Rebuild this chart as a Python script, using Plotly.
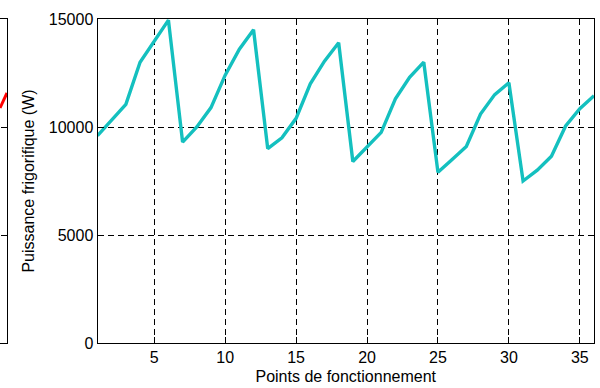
import plotly.graph_objects as go

# Main chart data
points = list(range(1, 37))
puissance = [9600, 10320, 11050, 13000, 14000, 14950,
             9300, 10000, 10900, 12400, 13600, 14500,
             9000, 9500, 10400, 12000, 13050, 13900,
             8400, 9050, 9750, 11300, 12300, 13000,
             7900, 8500, 9100, 10600, 11500, 12050,
             7500, 8000, 8650, 10050, 10850, 11450]
x_ticks = [5, 10, 15, 20, 25, 30, 35]
y_ticks = [0, 5000, 10000, 15000]
y_tick_labels = ["0", "5000", "10000", "15000"]

# Edge of the neighbouring (cropped) chart on the left
left_x = [0, 1]
left_values = [10880, 11575]

W, H = 600, 388
ML, MR, MT, MB = 0, 6, 19, 45
pw = W - ML - MR
font = dict(family="Liberation Sans, Arial, sans-serif", size=16, color="black")

fig = go.Figure()
fig.add_trace(go.Scatter(x=points, y=puissance, mode="lines",
                         line=dict(color="#14c0bf", width=3.4),
                         xaxis="x", yaxis="y", showlegend=False))
fig.add_trace(go.Scatter(x=left_x, y=left_values, mode="lines",
                         line=dict(color="red", width=3),
                         xaxis="x2", yaxis="y2", showlegend=False))

axis_common = dict(showline=True, linecolor="black", linewidth=1,
                   ticks="inside", ticklen=6, tickcolor="black",
                   zeroline=False, tickfont=font, automargin=False)

fig.update_layout(
    width=W, height=H,
    margin=dict(l=ML, r=MR, t=MT, b=MB),
    paper_bgcolor="white", plot_bgcolor="white",
    font=font,
    xaxis=dict(domain=[97.5 / pw, 1], range=[1, 36], tickvals=x_ticks,
               mirror="ticks", showgrid=True, gridcolor="black",
               griddash="6px,4px", gridwidth=1,
               title=dict(text="Points de fonctionnement", font=font, standoff=5),
               anchor="y", **axis_common),
    yaxis=dict(domain=[0, 1], range=[0, 15000], tickvals=y_ticks,
               ticktext=y_tick_labels,
               mirror="ticks", showgrid=True, gridcolor="black",
               griddash="6px,4px", gridwidth=1,
               title=dict(text="Puissance frigorifique (W)", font=font, standoff=10),
               anchor="x", **axis_common),
    xaxis2=dict(domain=[0, 7 / pw], range=[0, 1], showticklabels=False,
                showline=True, linecolor="black", linewidth=1, mirror=True,
                ticks="", showgrid=False, zeroline=False, anchor="y2",
                automargin=False),
    yaxis2=dict(domain=[0, 1], range=[0, 15000], tickvals=y_ticks,
                showticklabels=False, side="right", showline=True,
                linecolor="black", linewidth=1, ticks="inside", ticklen=6,
                tickcolor="black", showgrid=False, zeroline=False, anchor="x2",
                automargin=False),
)

fig.write_html("out.html", config={"displayModeBar": False},
               post_script="document.body.style.margin='0';document.body.style.overflow='hidden';")
